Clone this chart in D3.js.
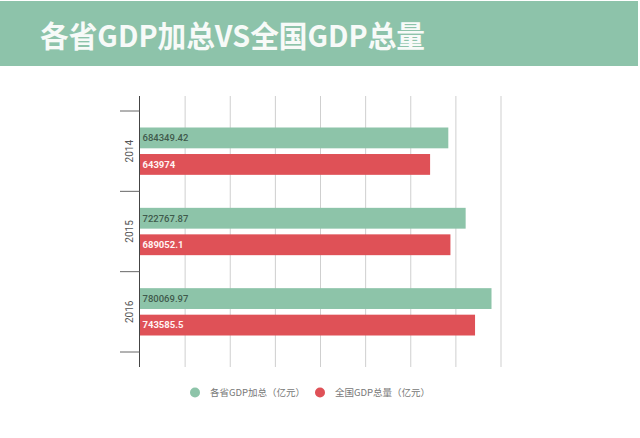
<!DOCTYPE html>
<html>
<head>
<meta charset="utf-8">
<script src="https://cdn.jsdelivr.net/npm/d3@7"></script>
<style>
  body { margin: 0; background: #fff; }
  svg { display: block; }
</style>
</head>
<body>
<script>
const years = ['2014', '2015', '2016'];
const provinceSum = [684349.42, 722767.87, 780069.97];
const nationalTotal = [643974, 689052.1, 743585.5];
const seriesNames = ['各省GDP加总（亿元）', '全国GDP总量（亿元）'];
const xTicks = [100000, 200000, 300000, 400000, 500000, 600000, 700000, 800000];

const colors = ['#8dc4a9', '#df5157'];
const labelColors = ['#3f5a4c', '#fff3f3'];

const W = 640, H = 438;
const margin = { top: 111, left: 139.5, right: 139, bottom: 86 };

const rows = years.map((y, i) => ({ year: y, values: [provinceSum[i], nationalTotal[i]] }));

const svg = d3.select('body')
  .append('svg')
  .attr('width', W)
  .attr('height', H);

// title band
svg.append('rect')
  .attr('x', 0)
  .attr('y', 1)
  .attr('width', 638)
  .attr('height', 65)
  .attr('fill', '#8dc3aa');

svg.append('text')
  .attr('x', 40)
  .attr('y', 47)
  .attr('textLength', 385)
  .attr('lengthAdjust', 'spacingAndGlyphs')
  .style('font-family', '"Noto Sans CJK SC", sans-serif')
  .style('font-weight', 'bold')
  .style('font-size', '30px')
  .style('fill', '#f7faf8')
  .text('各省GDP加总VS全国GDP总量');

const xScale = d3.scaleLinear()
  .domain([0, 800000])
  .range([margin.left, 500.5]);

const yScale = d3.scaleBand()
  .domain(years)
  .range([margin.top, H - margin.bottom]);

const inner = d3.scaleBand()
  .domain([0, 1])
  .range([16.5, yScale.bandwidth() - 16.5])
  .paddingInner(0.215);

const plotTop = margin.top - 15, plotBottom = H - margin.bottom + 15;

// grid lines
svg.append('g')
  .attr('class', 'grid')
  .attr('transform', `translate(0, ${plotTop})`)
  .call(d3.axisBottom(xScale).tickValues(xTicks).tickSize(plotBottom - plotTop).tickFormat(''))
  .call(g => g.select('.domain').remove())
  .call(g => g.selectAll('line').attr('stroke', '#cfcfcf').attr('stroke-width', 1));

// bars
const groups = svg.selectAll('.row').data(rows)
  .enter()
  .append('g')
  .attr('class', 'row')
  .attr('transform', d => `translate(0, ${yScale(d.year)})`);

groups.selectAll('rect').data(d => d.values)
  .enter()
  .append('rect')
  .attr('x', xScale(0))
  .attr('y', (d, i) => inner(i))
  .attr('width', d => xScale(d) - xScale(0))
  .attr('height', inner.bandwidth())
  .attr('fill', (d, i) => colors[i]);

groups.selectAll('text').data(d => d.values)
  .enter()
  .append('text')
  .attr('x', xScale(0) + 3)
  .attr('y', (d, i) => inner(i) + inner.bandwidth() / 2)
  .attr('dy', '0.35em')
  .style('font-family', 'Roboto, sans-serif')
  .style('font-size', '9.5px')
  .style('font-weight', (d, i) => i === 1 ? 'bold' : '500')
  .style('fill', (d, i) => labelColors[i])
  .text(d => d);

// left axis
svg.append('line')
  .attr('x1', xScale(0)).attr('x2', xScale(0))
  .attr('y1', plotTop).attr('y2', plotBottom)
  .attr('stroke', '#444');

const bounds = years.map(y => yScale(y)).concat([yScale(years[years.length - 1]) + yScale.bandwidth()]);
svg.selectAll('.ytick').data(bounds)
  .enter()
  .append('line')
  .attr('class', 'ytick')
  .attr('x1', 120).attr('x2', xScale(0))
  .attr('y1', d => d).attr('y2', d => d)
  .attr('stroke', '#666');

svg.selectAll('.ylabel').data(years)
  .enter()
  .append('text')
  .attr('class', 'ylabel')
  .attr('transform', d => `translate(129, ${yScale(d) + yScale.bandwidth() / 2}) rotate(-90)`)
  .attr('dy', '0.35em')
  .style('text-anchor', 'middle')
  .style('font-family', 'Roboto, sans-serif')
  .style('font-size', '10px')
  .style('fill', '#555')
  .text(d => d);

// legend
const legendX = [195, 320];
const legend = svg.selectAll('.legend').data(seriesNames)
  .enter()
  .append('g')
  .attr('class', 'legend')
  .attr('transform', (d, i) => `translate(${legendX[i]}, 392.5)`);

legend.append('circle')
  .attr('r', 5)
  .attr('fill', (d, i) => colors[i]);

legend.append('text')
  .attr('x', 15)
  .attr('dy', '0.35em')
  .style('font-family', '"Noto Sans CJK SC", sans-serif')
  .style('font-size', '9.5px')
  .style('fill', '#777')
  .text(d => d);
</script>
</body>
</html>
